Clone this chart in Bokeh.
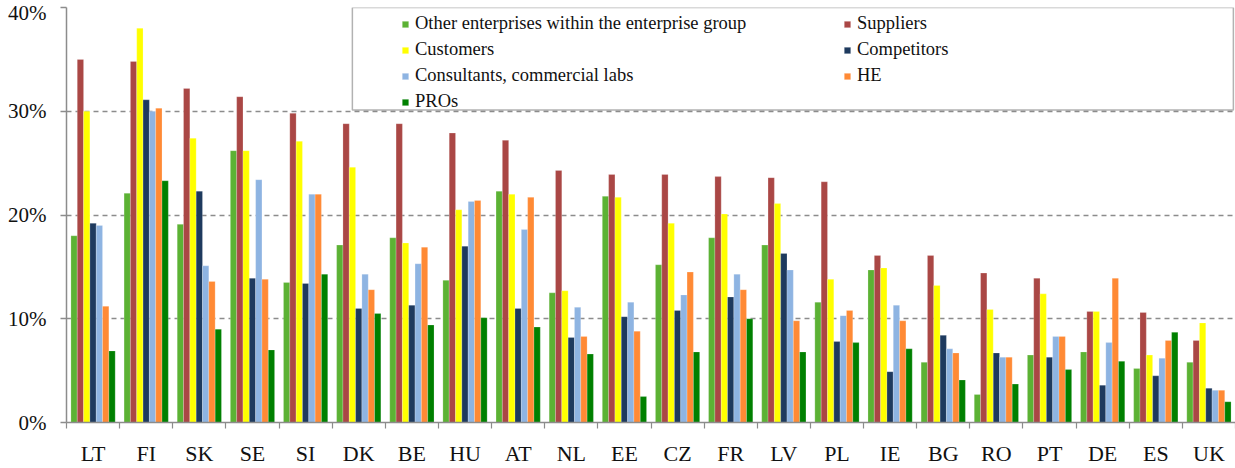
import numpy as np
from bokeh.plotting import figure
from bokeh.models import (ColumnDataSource, Range1d, FixedTicker, PrintfTickFormatter,
                          Legend, LegendItem, BoxAnnotation)
from bokeh.transform import dodge
from bokeh.embed import file_html
from bokeh.resources import INLINE

countries = ["LT", "FI", "SK", "SE", "SI", "DK", "BE", "HU", "AT", "NL", "EE",
             "CZ", "FR", "LV", "PL", "IE", "BG", "RO", "PT", "DE", "ES", "UK"]

other_group = [18.0, 22.1, 19.1, 26.2, 13.5, 17.1, 17.8, 13.7, 22.3, 12.5, 21.8,
               15.2, 17.8, 17.1, 11.6, 14.7, 5.8, 2.7, 6.5, 6.8, 5.2, 5.8]
suppliers = [35.0, 34.8, 32.2, 31.4, 29.8, 28.8, 28.8, 27.9, 27.2, 24.3, 23.9,
             23.9, 23.7, 23.6, 23.2, 16.1, 16.1, 14.4, 13.9, 10.7, 10.6, 7.9]
customers = [30.0, 38.0, 27.4, 26.2, 27.1, 24.6, 17.3, 20.5, 22.0, 12.7, 21.7,
             19.2, 20.1, 21.1, 13.8, 14.9, 13.2, 10.9, 12.4, 10.7, 6.5, 9.6]
competitors = [19.2, 31.1, 22.3, 13.9, 13.4, 11.0, 11.3, 17.0, 11.0, 8.2, 10.2,
               10.8, 12.1, 16.3, 7.8, 4.9, 8.4, 6.7, 6.3, 3.6, 4.5, 3.3]
consultants = [19.0, 30.0, 15.1, 23.4, 22.0, 14.3, 15.3, 21.3, 18.6, 11.1, 11.6,
               12.3, 14.3, 14.7, 10.3, 11.3, 7.1, 6.3, 8.3, 7.7, 6.2, 3.1]
he = [11.2, 30.3, 13.6, 13.8, 22.0, 12.8, 16.9, 21.4, 21.7, 8.3, 8.8,
      14.5, 12.8, 9.8, 10.8, 9.8, 6.7, 6.3, 8.3, 13.9, 7.9, 3.1]
pros = [6.9, 23.3, 9.0, 7.0, 14.3, 10.5, 9.4, 10.1, 9.2, 6.6, 2.5,
        6.8, 10.0, 6.8, 7.7, 7.1, 4.1, 3.7, 5.1, 5.9, 8.7, 2.0]

series_names = ["Other enterprises within the enterprise group", "Suppliers", "Customers",
                "Competitors", "Consultants, commercial labs", "HE", "PROs"]
series_keys = ["other", "suppliers", "customers", "competitors", "consultants", "he", "pros"]
series_vals = [other_group, suppliers, customers, competitors, consultants, he, pros]
colors = ["#5CB234", "#AA4745", "#FFFF00", "#1E3A5E", "#8EB4E2", "#FF8A35", "#008000"]

SERIF = "'Liberation Serif', 'Times New Roman', Times, serif"

n = len(countries)
data = {"x": np.arange(n) + 0.5, "country": countries}
for k, v in zip(series_keys, series_vals):
    data[k] = v
source = ColumnDataSource(data)

p = figure(width=1235, height=468, output_backend="svg", toolbar_location=None,
           x_range=Range1d(0, n), y_range=Range1d(0, 40),
           min_border_left=66, min_border_right=0, min_border_top=7, min_border_bottom=42)
p.outline_line_color = None
p.background_fill_color = "white"

bw = 0.119
renderers = []
for i, (k, c) in enumerate(zip(series_keys, colors)):
    r = p.vbar(x=dodge("x", (i - 3) * bw), top=k, width=bw, bottom=0, source=source,
               fill_color=c, line_color="white", line_alpha=0.35, line_width=0.6)
    renderers.append(r)

# grid
p.xgrid.grid_line_color = None
p.ygrid.ticker = FixedTicker(ticks=[10, 20, 30, 40])
p.ygrid.grid_line_color = "#8c8c8c"
p.ygrid.grid_line_width = 1.3
p.ygrid.grid_line_dash = "5 4"

yax = p.yaxis[0]
yax.ticker = FixedTicker(ticks=[0, 10, 20, 30, 40])
yax.formatter = PrintfTickFormatter(format="%d%%")
yax.axis_line_color = "#8c8c8c"
yax.axis_line_width = 1.5
yax.major_tick_line_color = "#8c8c8c"
yax.major_tick_line_width = 1.5
yax.major_tick_out = 6
yax.major_tick_in = 0
yax.minor_tick_line_color = None
yax.major_label_text_font = SERIF
yax.major_label_text_font_size = "21px"
yax.major_label_text_color = "#111111"
yax.major_label_standoff = 14

xax = p.xaxis[0]
xax.ticker = FixedTicker(ticks=list(np.arange(n) + 0.5), minor_ticks=list(range(n + 1)))
xax.major_label_overrides = {float(i + 0.5): c for i, c in enumerate(countries)}
xax.axis_line_color = "#8c8c8c"
xax.axis_line_width = 1.5
xax.major_tick_line_color = None
xax.major_tick_out = 6
xax.major_tick_in = 0
xax.minor_tick_line_color = "#8c8c8c"
xax.minor_tick_line_width = 1.2
xax.minor_tick_out = 6
xax.minor_tick_in = 0
xax.major_label_text_font = SERIF
xax.major_label_text_font_size = "22px"
xax.major_label_text_color = "#111111"
xax.major_label_standoff = 12

# legend frame
box = BoxAnnotation(left=5.38, right=21.96, top=40, bottom=30.12,
                    fill_color="white", fill_alpha=1.0, line_color="black", line_width=1.5,
                    level="annotation")
p.add_layout(box)

items = [LegendItem(label=nm, renderers=[r]) for nm, r in zip(series_names, renderers)]
legend = Legend(items=items, orientation="horizontal", ncols=2,
                location=(335, 310), padding=0, margin=0, spacing=5,
                glyph_width=8, glyph_height=8, label_standoff=6,
                label_width=423, label_height=20,
                border_line_color=None, background_fill_alpha=0.0,
                label_text_font=SERIF, label_text_font_size="18.5px",
                label_text_color="#111111")
p.add_layout(legend, "center")

open("out.html", "w").write(file_html(p, INLINE))
